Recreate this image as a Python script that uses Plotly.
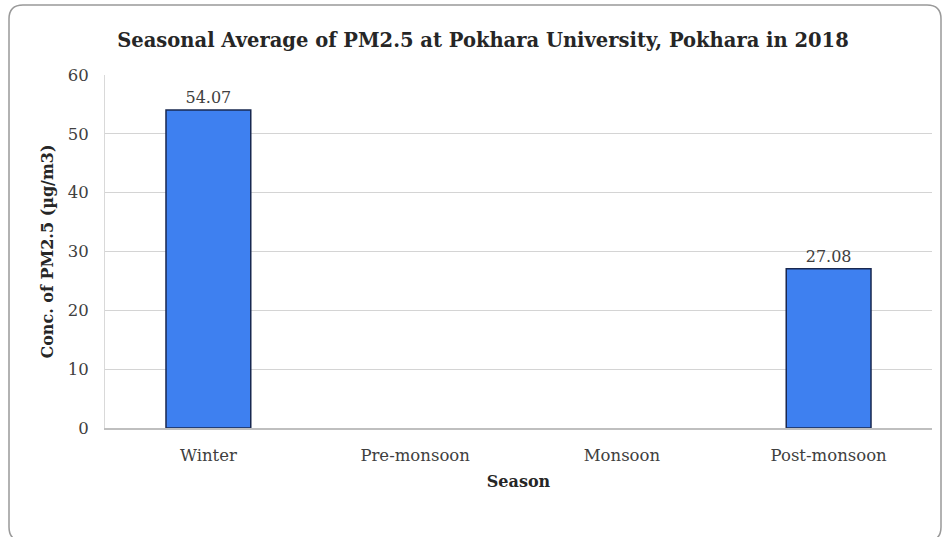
import plotly.graph_objects as go

seasons = ["Winter", "Pre-monsoon", "Monsoon", "Post-monsoon"]
pm25 = [54.07, None, None, 27.08]
bar_labels = ["54.07", "", "", "27.08"]
y_ticks = [0, 10, 20, 30, 40, 50, 60]

W, H = 945, 537
L, R, T, B = 105, 13, 75, 109
pw, ph = W - L - R, H - T - B

def px(x):
    return (x - L) / pw

def py(y):
    return (H - B - y) / ph

font_name = "DejaVu Serif"

fig = go.Figure()
fig.add_trace(go.Bar(
    x=seasons, y=pm25,
    text=bar_labels, textposition="outside",
    textfont=dict(family=font_name, size=16, color="#404040"),
    marker_color="rgb(62,128,240)",
    marker_line_color="rgb(25,40,80)",
    marker_line_width=1.5,
    width=0.41,
    cliponaxis=False,
))

# rounded outer frame
x0, x1, y0, y1, r = 9, 941, 5, 541, 14
path = (f"M {px(x0+r)},{py(y0)} L {px(x1-r)},{py(y0)} Q {px(x1)},{py(y0)} {px(x1)},{py(y0+r)} "
        f"L {px(x1)},{py(y1-r)} Q {px(x1)},{py(y1)} {px(x1-r)},{py(y1)} "
        f"L {px(x0+r)},{py(y1)} Q {px(x0)},{py(y1)} {px(x0)},{py(y1-r)} "
        f"L {px(x0)},{py(y0+r)} Q {px(x0)},{py(y0)} {px(x0+r)},{py(y0)} Z")
fig.add_shape(type="path", path=path, xref="paper", yref="paper",
              line=dict(color="#999999", width=1.5), layer="below")

fig.update_layout(
    width=W, height=H,
    margin=dict(l=L, r=R, t=T, b=B),
    paper_bgcolor="white", plot_bgcolor="white",
    showlegend=False,
    font=dict(family=font_name, color="#404040"),
    title=dict(text="<b>Seasonal Average of PM2.5 at Pokhara University, Pokhara in 2018</b>",
               x=483 / W, xanchor="center", y=1 - 40 / H, yanchor="middle",
               font=dict(family=font_name, size=19.5, color="#262626")),
)
fig.update_xaxes(
    showgrid=False, showline=True, linecolor="#bfbfbf", linewidth=1.5,
    ticks="outside", ticklen=11, tickcolor="rgba(0,0,0,0)",
    tickfont=dict(family=font_name, size=16.5, color="#404040"),
    title=dict(text="<b>Season</b>", standoff=12,
               font=dict(family=font_name, size=16, color="#262626")),
)
fig.update_yaxes(
    range=[0, 60], tickvals=y_ticks,
    showgrid=True, gridcolor="#d4d4d4", gridwidth=1,
    showline=True, linecolor="#d9d9d9", linewidth=1,
    zeroline=False,
    ticks="outside", ticklen=12, tickcolor="rgba(0,0,0,0)",
    tickfont=dict(family=font_name, size=16.5, color="#404040"),
    title=dict(text="<b>Conc. of PM2.5 (µg/m3)</b>", standoff=10,
               font=dict(family=font_name, size=16, color="#262626")),
)

fig.write_html("out.html", config={"displayModeBar": False},
               post_script="document.body.style.margin='0px';")
